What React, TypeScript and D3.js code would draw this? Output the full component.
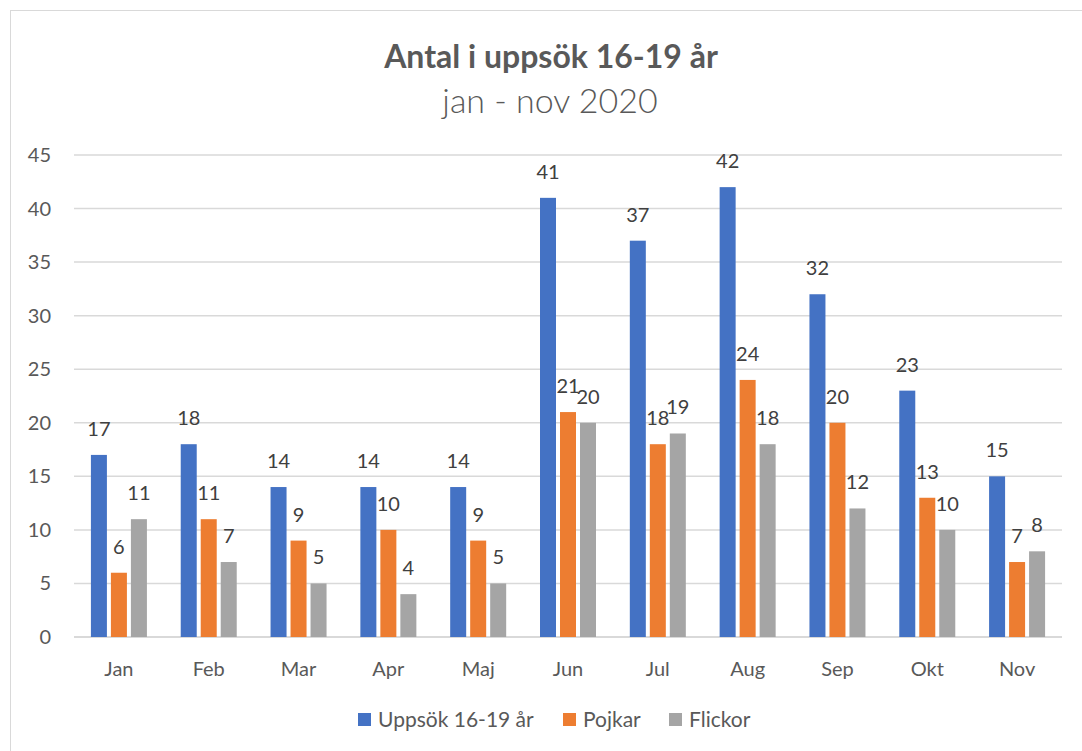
import React from 'react';
import * as d3 from 'd3';

const months = ['Jan', 'Feb', 'Mar', 'Apr', 'Maj', 'Jun', 'Jul', 'Aug', 'Sep', 'Okt', 'Nov'];
const uppsok = [17, 18, 14, 14, 14, 41, 37, 42, 32, 23, 15];
const pojkar = [6, 11, 9, 10, 9, 21, 18, 24, 20, 13, 7];
const flickor = [11, 7, 5, 4, 5, 20, 19, 18, 12, 10, 8];
const seriesNames = ['Uppsök 16-19 år', 'Pojkar', 'Flickor'];
const yTicks = [0, 5, 10, 15, 20, 25, 30, 35, 40, 45];

const colors = ['#4472c4', '#ed7d31', '#a5a5a5'];
const font = 'Lato, "Open Sans", sans-serif';

export default function App() {
	const width = 1082;
	const height = 751;
	const plot = { left: 74, right: 1062, top: 155, bottom: 637 };

	const x = d3.scaleBand<string>().domain(months).range([plot.left, plot.right]);
	const inner = d3.scaleBand<number>().domain([0, 1, 2]).range([-28, 28]).paddingInner(0.2);
	const y = d3.scaleLinear().domain([0, 45]).range([plot.bottom, plot.top]);

	const series = [uppsok, pojkar, flickor];
	const bw = inner.bandwidth();

	// legend layout: square + text per item
	const legendX = [358, 563, 669];

	return (
		<svg width={width} height={height} style={{ position: 'absolute', left: 0, top: 0, background: '#fff' }}>
			<rect x={10.5} y={10.5} width={1100} height={800} fill="#fff" stroke="#d9d9d9" />
			<text x={551} y={68} textAnchor="middle" fontFamily={font} fontSize={32} fontWeight="bold" fill="#595959">
				Antal i uppsök 16-19 år
			</text>
			<text x={550} y={113} textAnchor="middle" fontFamily={font} fontSize={34} fontWeight={300} fill="#595959">
				jan - nov 2020
			</text>

			{yTicks.map(t => (
				<g key={t}>
					<line x1={plot.left} x2={plot.right} y1={y(t)} y2={y(t)} stroke="#d9d9d9" strokeWidth={t === 0 ? 2 : 1.5} />
					<text x={51} y={y(t) + 7} textAnchor="end" fontFamily={font} fontSize={20} fill="#595959">
						{t}
					</text>
				</g>
			))}

			{months.map((m, i) => {
				const cx = x(m)! + x.bandwidth() / 2;
				return (
					<g key={m}>
						{series.map((s, k) => {
							const bx = cx + inner(k)!;
							return (
								<g key={k}>
									<rect x={bx} y={y(s[i])} width={bw} height={y(0) - y(s[i])} fill={colors[k]} />
									<text
										x={bx + bw / 2}
										y={y(s[i]) - 19}
										textAnchor="middle"
										fontFamily={font}
										fontSize={20}
										fill="#404040"
									>
										{s[i]}
									</text>
								</g>
							);
						})}
						<text x={cx} y={676} textAnchor="middle" fontFamily={font} fontSize={20} fill="#595959">
							{m}
						</text>
					</g>
				);
			})}

			{seriesNames.map((name, k) => (
				<g key={name}>
					<rect x={legendX[k]} y={713} width={13} height={13} fill={colors[k]} />
					<text x={legendX[k] + 20} y={727} fontFamily={font} fontSize={21} fill="#595959">
						{name}
					</text>
				</g>
			))}
		</svg>
	);
}
